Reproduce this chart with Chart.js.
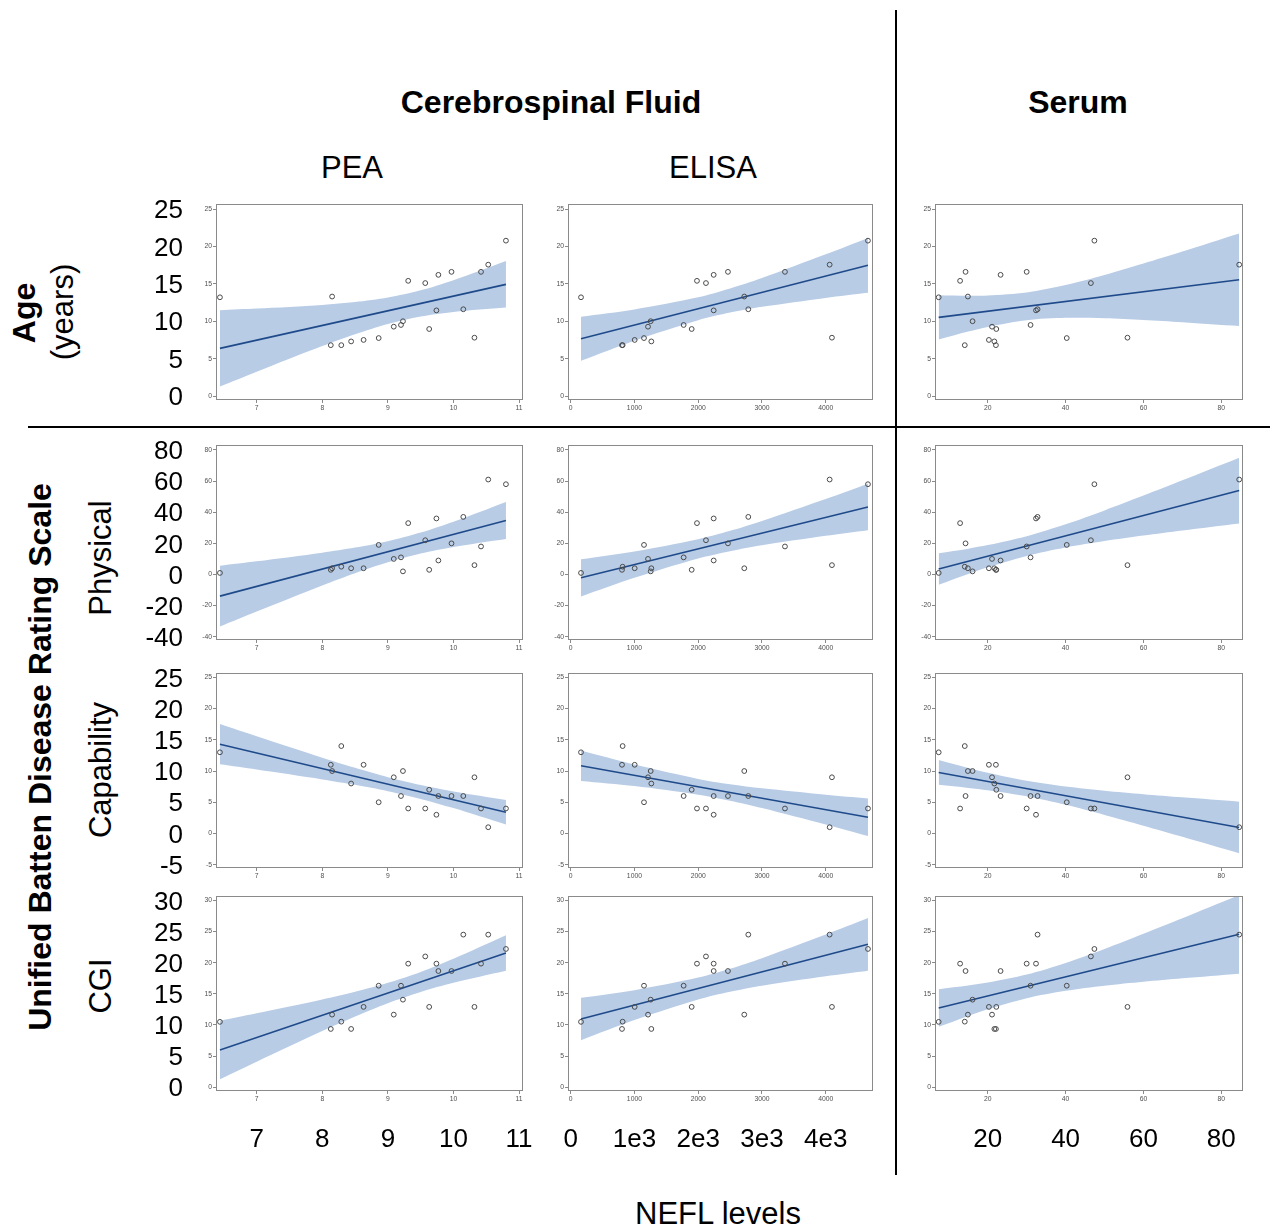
<!DOCTYPE html>
<html><head><meta charset="utf-8">
<script src="https://cdn.jsdelivr.net/npm/chart.js"></script>
<style>
html,body{margin:0;padding:0;background:#fff;}
body{width:1270px;height:1230px;position:relative;overflow:hidden;font-family:"Liberation Sans",Arial,sans-serif;}
.t{position:absolute;white-space:nowrap;color:#000;line-height:1;transform:translate(-50%,-50%);}
.r{transform:translate(-50%,-50%) rotate(-90deg);}
.b{font-weight:bold;font-size:32px;}
.n{font-size:31px;}
.rule{position:absolute;background:#000;}
canvas{position:absolute;}
</style></head><body>
<div class="t b" style="left:551px;top:102px;">Cerebrospinal Fluid</div>
<div class="t b" style="left:1078px;top:102px;">Serum</div>
<div class="t n" style="left:352px;top:167px;">PEA</div>
<div class="t n" style="left:713px;top:167px;">ELISA</div>
<div class="t b r" style="left:24px;top:313px;">Age</div>
<div class="t n r" style="left:62px;top:312px;">(years)</div>
<div class="t b r" style="left:40px;top:757px;">Unified Batten Disease Rating Scale</div>
<div class="t n r" style="left:100px;top:558px;">Physical</div>
<div class="t n r" style="left:100px;top:770px;">Capability</div>
<div class="t n r" style="left:100px;top:986px;">CGI</div>
<div class="t n" style="left:718px;top:1213px;">NEFL levels</div>
<div class="rule" style="left:895px;top:10px;width:2px;height:1165px;"></div>
<div class="rule" style="left:28px;top:426px;width:1242px;height:2px;"></div>
<script>
// ---------- data: one entry per subject ----------
const peaNEFL    = [6.44, 8.13, 8.15, 8.29, 8.44, 8.63, 8.86, 9.09, 9.20, 9.23, 9.31, 9.57, 9.63, 9.74, 9.77, 9.97, 10.15, 10.32, 10.42, 10.53, 10.80];
const elisaNEFL  = [162, 805, 2723, 815, 1265, 1004, 1150, 1213, 1772, 1255, 1981, 2122, 1898, 2243, 2243, 2467, 2786, 4098, 3361, 4062, 4663];
const serumNEFL  = [7.4, 22.1, 14.9, 14.1, 21.7, 20.3, 40.3, 21.1, 31.0, 16.1, 12.9, 46.5, 22.2, 32.4, 23.3, 14.3, 32.8, 55.9, 30.0, 84.6, 47.4];
const age        = [13.2, 6.8, 13.3, 6.8, 7.3, 7.5, 7.75, 9.27, 9.5, 10.0, 15.4, 15.1, 8.96, 11.45, 16.2, 16.6, 11.6, 7.8, 16.6, 17.56, 20.77];
const physical   = [1, 3, 4, 5, 4, 4, 19, 10, 11, 2, 33, 22, 3, 36, 9, 20, 37, 6, 18, 61, 58];
const capability = [13, 11, 10, 14, 8, 11, 5, 9, 6, 10, 4, 4, 7, 3, 6, 6, 6, 9, 4, 1, 4];
const cgi        = [10.5, 9.36, 11.66, 10.53, 9.36, 12.9, 16.3, 11.66, 16.3, 14.06, 19.84, 21.0, 12.9, 19.84, 18.66, 18.66, 24.5, 12.9, 19.84, 24.5, 22.2];

// ---------- regression lines and confidence bands ----------
const peaGrid   = [6.44, 7, 8, 8.5, 9, 9.5, 10, 10.8];
const elisaGrid = [162, 1000, 2000, 2500, 3000, 4000, 4663];
const serumGrid = [7.4, 15, 20, 30, 40, 50, 60, 70, 84.6];

const agePeaFit = [6.37, 14.93];
const agePeaLo  = [1.26, 3.25, 6.68, 8.26, 9.63, 10.63, 11.24, 11.82];
const agePeaHi  = [11.48, 11.69, 12.18, 12.56, 13.17, 14.13, 15.48, 18.04];
const ageElisaFit = [7.66, 17.47];
const ageElisaLo  = [4.71, 7.4, 10.14, 11.15, 11.93, 13.12, 13.8];
const ageElisaHi  = [10.61, 11.58, 13.2, 14.37, 15.77, 18.94, 21.14];
const ageSerumFit = [10.52, 15.54];
const ageSerumLo  = [7.56, 8.62, 9.24, 10.13, 10.45, 10.4, 10.17, 9.87, 9.36];
const ageSerumHi  = [13.48, 13.4, 13.44, 13.85, 14.83, 16.18, 17.71, 19.31, 21.72];

const physPeaFit = [-13.9, 34.71];
const physPeaLo  = [-33.4, -23.76, -7.01, 0.84, 7.87, 13.52, 17.71, 22.81];
const physPeaHi  = [5.6, 8.44, 13.99, 17.3, 21.41, 26.92, 33.87, 46.61];
const physElisaFit = [-2.15, 43.4];
const physElisaLo  = [-14.12, -2.15, 10.26, 14.98, 18.81, 24.9, 28.5];
const physElisaHi  = [9.82, 14.81, 22.64, 28.02, 34.39, 48.5, 58.3];
const physSerumFit = [3.5, 53.9];
const physSerumLo  = [-6.6, 0.31, 4.57, 11.91, 17.31, 21.44, 24.98, 28.26, 32.82];
const physSerumHi  = [13.6, 16.61, 18.89, 24.61, 32.25, 41.18, 50.7, 60.48, 74.98];

const capPeaFit = [14.3, 3.4];
const capPeaLo  = [11.07, 10.23, 8.66, 7.79, 6.78, 5.54, 4.06, 1.43];
const capPeaHi  = [17.53, 15.57, 12.14, 10.51, 9.02, 7.76, 6.74, 5.37];
const capElisaFit = [10.84, 2.6];
const capElisaLo  = [8.41, 7.59, 6.22, 5.24, 4.07, 1.43, -0.42];
const capElisaHi  = [13.27, 11.03, 8.74, 7.88, 7.23, 6.21, 5.62];
const capSerumFit = [9.77, 0.96];
const capSerumLo  = [7.79, 7.3, 6.93, 5.95, 4.58, 2.97, 1.25, -0.53, -3.17];
const capSerumHi  = [11.75, 10.5, 9.73, 8.44, 7.52, 6.85, 6.29, 5.79, 5.09];

const cgiPeaFit = [5.99, 21.55];
const cgiPeaLo  = [1.3, 4.11, 9.03, 11.36, 13.5, 15.3, 16.76, 18.69];
const cgiPeaHi  = [10.68, 11.87, 14.09, 15.32, 16.76, 18.52, 20.64, 24.41];
const cgiElisaFit = [10.96, 22.94];
const cgiElisaLo  = [7.56, 10.79, 14.09, 15.33, 16.3, 17.82, 18.71];
const cgiElisaHi  = [14.36, 15.59, 17.61, 19.03, 20.72, 24.52, 27.17];
const cgiSerumFit = [12.73, 24.55];
const cgiSerumLo  = [9.71, 11.45, 12.52, 14.29, 15.48, 16.3, 16.93, 17.49, 18.24];
const cgiSerumHi  = [15.75, 16.33, 16.8, 18.09, 19.96, 22.2, 24.63, 27.13, 30.86];

// ---------- ticks ----------
const peaTicks   = [7, 8, 9, 10, 11];
const elisaTicks = [0, 1000, 2000, 3000, 4000];
const elisaBigLabels = ['0', '1e3', '2e3', '3e3', '4e3'];
const serumTicks = [20, 40, 60, 80];
const ageTicks   = [0, 5, 10, 15, 20, 25];
const physTicks  = [-40, -20, 0, 20, 40, 60, 80];
const capTicks   = [-5, 0, 5, 10, 15, 20, 25];
const cgiTicks   = [0, 5, 10, 15, 20, 25, 30];

// ---------- layout ----------
const FONT = '"Liberation Sans", Arial, sans-serif';
const columns = [
  {xs: peaNEFL,   grid: peaGrid,   ticks: peaTicks,   min: 6.38, max: 11.06, left: 216, right: 523, big: v => String(v)},
  {xs: elisaNEFL, grid: elisaGrid, ticks: elisaTicks, min: -42,  max: 4742,  left: 568, right: 873, big: v => elisaBigLabels[elisaTicks.indexOf(v)]},
  {xs: serumNEFL, grid: serumGrid, ticks: serumTicks, min: 6.45, max: 85.58, left: 935, right: 1243, big: v => String(v)}
];
const rows = [
  {ys: age,        ticks: ageTicks,  min: -0.53, max: 25.67, top: 204, bottom: 400,
   fits: [[agePeaFit, agePeaLo, agePeaHi], [ageElisaFit, ageElisaLo, ageElisaHi], [ageSerumFit, ageSerumLo, ageSerumHi]]},
  {ys: physical,   ticks: physTicks, min: -42.1, max: 83.2,  top: 445, bottom: 640,
   fits: [[physPeaFit, physPeaLo, physPeaHi], [physElisaFit, physElisaLo, physElisaHi], [physSerumFit, physSerumLo, physSerumHi]]},
  {ys: capability, ticks: capTicks,  min: -5.53, max: 25.7,  top: 673, bottom: 868,
   fits: [[capPeaFit, capPeaLo, capPeaHi], [capElisaFit, capElisaLo, capElisaHi], [capSerumFit, capSerumLo, capSerumHi]]},
  {ys: cgi,        ticks: cgiTicks,  min: -0.6,  max: 30.7,  top: 896, bottom: 1091,
   fits: [[cgiPeaFit, cgiPeaLo, cgiPeaHi], [cgiElisaFit, cgiElisaLo, cgiElisaHi], [cgiSerumFit, cgiSerumLo, cgiSerumHi]]}
];

const PAD_T = 30, PAD_R = 15, PAD_B = 14, PAD_L = 2;
const YS_W = 22, YB_W = 60, XS_H = 14, XB_H = 45;
const FRAME = '#8a8a8a', SMALL_TXT = '#505050';
const BAND = '#b8cce6', LINE = '#1f4a8a', PT = '#4a4a4a';

const framePlugin = {
  id: 'frame',
  afterDatasetsDraw(chart) {
    const a = chart.chartArea, ctx = chart.ctx;
    ctx.save();
    ctx.strokeStyle = FRAME; ctx.lineWidth = 1;
    ctx.strokeRect(Math.round(a.left) + 0.5, Math.round(a.top) + 0.5,
                   Math.round(a.right - a.left) - 1, Math.round(a.bottom - a.top) - 1);
    ctx.restore();
  }
};

function setTicks(list) { return axis => { axis.ticks = list.map(v => ({value: v})); }; }

function smallAxis(list, min, max, isX) {
  return {
    type: 'linear', min, max,
    position: isX ? 'bottom' : 'left',
    afterFit: s => { if (isX) s.height = XS_H; else s.width = YS_W; },
    afterBuildTicks: setTicks(list),
    ticks: {font: {size: 6.8, family: FONT}, color: SMALL_TXT, padding: 1,
            autoSkip: false, maxRotation: 0, includeBounds: false, callback: v => String(v)},
    grid: {drawOnChartArea: false, drawTicks: true, tickLength: 3, color: FRAME, lineWidth: 1},
    border: {display: false}
  };
}

function bigAxis(list, min, max, isX, fmt) {
  return {
    type: 'linear', min, max, weight: 1,
    position: isX ? 'bottom' : 'left',
    afterFit: s => { if (isX) s.height = XB_H; else s.width = YB_W; },
    afterBuildTicks: setTicks(list),
    ticks: {font: {size: 26, family: FONT}, color: '#000', padding: 2, labelOffset: isX ? 0 : 2,
            autoSkip: false, maxRotation: 0, includeBounds: false, callback: fmt},
    grid: {display: false, drawTicks: true, tickLength: isX ? 17 : 9},
    border: {display: false}
  };
}

rows.forEach((row, r) => {
  columns.forEach((col, c) => {
    const leftW = PAD_L + YS_W + (c === 0 ? YB_W : 0);
    const botH = XS_H + (r === 3 ? XB_H : 0) + PAD_B;
    const boxW = col.right - col.left, boxH = row.bottom - row.top;
    const cv = document.createElement('canvas');
    cv.width = leftW + boxW + PAD_R;
    cv.height = PAD_T + boxH + botH;
    cv.style.left = (col.left - leftW) + 'px';
    cv.style.top = (row.top - PAD_T) + 'px';
    cv.style.width = cv.width + 'px';
    cv.style.height = cv.height + 'px';
    document.body.appendChild(cv);

    const [fit, lo, hi] = row.fits[c];
    const g = col.grid;
    const scales = {
      x: smallAxis(col.ticks, col.min, col.max, true),
      y: smallAxis(row.ticks, row.min, row.max, false)
    };
    if (c === 0) scales.yBig = bigAxis(row.ticks, row.min, row.max, false, v => String(v));
    if (r === 3) scales.xBig = bigAxis(col.ticks, col.min, col.max, true, col.big);

    new Chart(cv, {
      type: 'scatter',
      data: {
        datasets: [
          {data: g.map((x, i) => ({x, y: hi[i]})), showLine: true, fill: '+1', backgroundColor: BAND,
           borderColor: 'rgba(0,0,0,0)', borderWidth: 0, pointRadius: 0, tension: 0.3, order: 3},
          {data: g.map((x, i) => ({x, y: lo[i]})), showLine: true, fill: false,
           borderColor: 'rgba(0,0,0,0)', borderWidth: 0, pointRadius: 0, tension: 0.3, order: 3},
          {data: [{x: g[0], y: fit[0]}, {x: g[g.length - 1], y: fit[1]}], showLine: true, fill: false,
           borderColor: LINE, borderWidth: 1.6, pointRadius: 0, order: 1},
          {data: col.xs.map((x, i) => ({x, y: row.ys[i]})), showLine: false,
           pointRadius: 2.4, pointBorderWidth: 1, pointBorderColor: PT,
           pointBackgroundColor: 'rgba(0,0,0,0)', order: 0}
        ]
      },
      options: {
        responsive: false, animation: false, devicePixelRatio: 1,
        layout: {padding: {top: PAD_T, right: PAD_R, bottom: PAD_B, left: PAD_L}},
        plugins: {legend: {display: false}, tooltip: {enabled: false}},
        scales
      },
      plugins: [framePlugin]
    });
  });
});
</script>
</body></html>
